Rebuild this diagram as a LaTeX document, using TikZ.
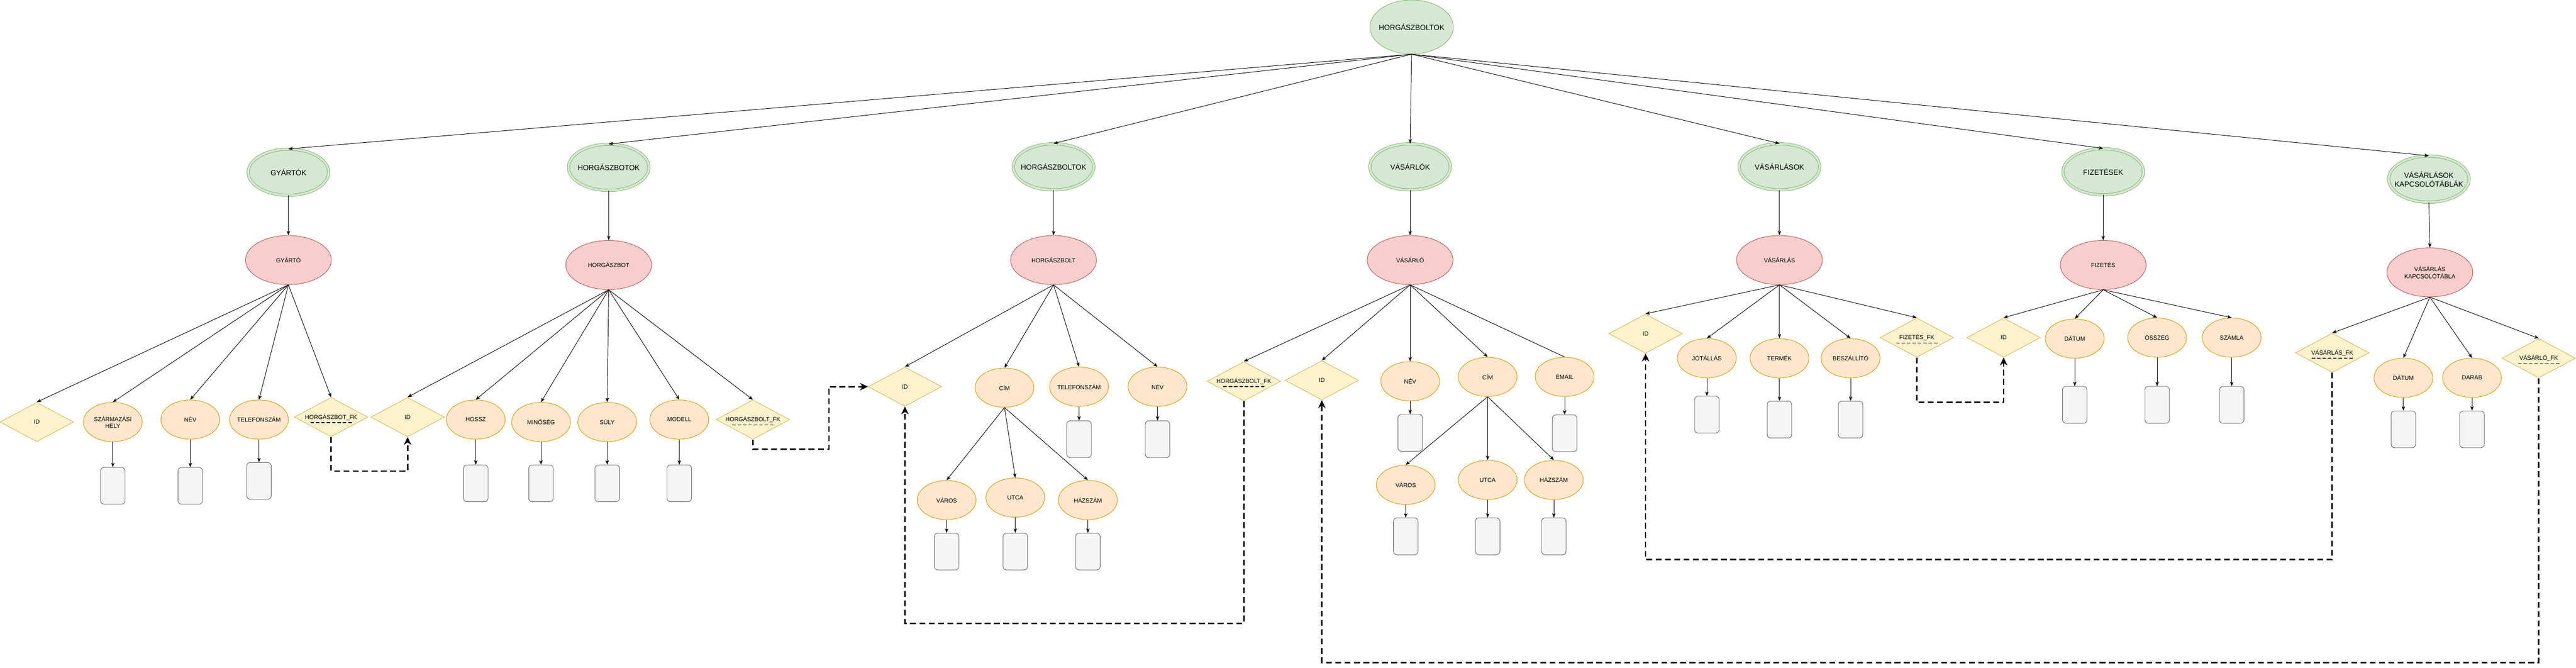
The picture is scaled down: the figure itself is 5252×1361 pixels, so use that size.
\documentclass[tikz,border=0pt]{standalone}
\usepackage{fontspec}
\setmainfont{Liberation Sans}
\usetikzlibrary{arrows.meta,shapes.geometric}

\definecolor{greenfill}{HTML}{D5E8D4}
\definecolor{greenline}{HTML}{82B366}
\definecolor{redfill}{HTML}{F8CECC}
\definecolor{redline}{HTML}{B85450}
\definecolor{attrfill}{HTML}{FFE6CC}
\definecolor{attrline}{HTML}{D79B00}
\definecolor{keyfill}{HTML}{FFF2CC}
\definecolor{keyline}{HTML}{D6B656}
\definecolor{boxfill}{HTML}{F5F5F5}
\definecolor{boxline}{HTML}{666666}

\tikzset{
  rootnode/.style={ellipse, draw=greenline, fill=greenfill, line width=1pt, minimum width=170pt, minimum height=110pt, inner xsep=-30pt, inner ysep=0pt, font=\fontsize{15}{18}\selectfont},
  tablenode/.style={ellipse, draw=greenline, fill=greenfill, double=greenfill, double distance=4pt, line width=1pt, minimum width=164pt, minimum height=94pt, inner xsep=-30pt, inner ysep=0pt, align=center, font=\fontsize{15}{18}\selectfont},
  entity/.style={ellipse, draw=redline, fill=redfill, line width=1pt, minimum width=175pt, minimum height=100pt, inner xsep=-20pt, inner ysep=0pt, align=center, font=\fontsize{12}{14.5}\selectfont},
  attr/.style={ellipse, draw=attrline, fill=attrfill, line width=1pt, minimum width=120pt, minimum height=80pt, inner xsep=-20pt, inner ysep=0pt, align=center, font=\fontsize{12}{14}\selectfont},
  keynode/.style={diamond, aspect=1.875, draw=keyline, fill=keyfill, line width=1pt, minimum width=150pt, minimum height=80pt, inner sep=0pt, font=\fontsize{12}{14}\selectfont},
  valbox/.style={rectangle, rounded corners=7pt, draw=boxline, fill=boxfill, line width=1pt, minimum width=50pt, minimum height=75pt, inner sep=0pt},
  conn/.style={line width=1pt, -{Stealth[length=9pt,width=7pt,inset=2.5pt]}},
  fkconn/.style={line width=3pt, dash pattern=on 12pt off 7pt, -{Stealth[length=16pt,width=15pt,inset=5pt]}},
  fkline/.style={line width=2pt, dash pattern=on 7pt off 4pt}
}

\begin{document}
\begin{tikzpicture}[x=1pt, y=-1pt]
        \useasboundingbox (0,0) rectangle (5252,1361);

        \node[rootnode] (root) at (2878,55) {HORGÁSZBOLTOK};

        % tables
        \node[tablenode] (gyartok) at (588,351) {GYÁRTÓK};
        \node[tablenode] (botok) at (1241,341) {HORGÁSZBOTOK};
        \node[tablenode] (boltok) at (2148,340) {HORGÁSZBOLTOK};
        \node[tablenode] (vevok) at (2875,340) {VÁSÁRLÓK};
        \node[tablenode] (vasarlasok) at (3628,340) {VÁSÁRLÁSOK};
        \node[tablenode] (fizetesek) at (4288,350) {FIZETÉSEK};
        \node[tablenode] (kapcsolok) at (4952,365) {VÁSÁRLÁSOK\\KAPCSOLÓTÁBLÁK};

        \node[entity] (gyarto) at (588,530) {GYÁRTÓ};
        \node[entity] (bot) at (1241,540) {HORGÁSZBOT};
        \node[entity] (bolt) at (2148,530) {HORGÁSZBOLT};
        \node[entity] (vevo) at (2875,530) {VÁSÁRLÓ};
        \node[entity] (vasarlas) at (3628,530) {VÁSÁRLÁS};
        \node[entity] (fizetes) at (4288,540) {FIZETÉS};
        \node[entity] (kapcsolo) at (4954,555) {VÁSÁRLÁS\\KAPCSOLÓTÁBLA};

        \foreach \t/\e in {gyartok/gyarto, botok/bot, boltok/bolt, vevok/vevo, vasarlasok/vasarlas, fizetesek/fizetes, kapcsolok/kapcsolo} {
          \draw[conn] (root.south) -- (\t.north);
          \draw[conn] (\t.south) -- (\e.north);
        }

        % gyarto
        \node[keynode] (gyid) at (75,860) {ID};
        \node[attr] (gyhely) at (230,860) {SZÁRMAZÁSI\\HELY};
        \node[attr] (gynev) at (388,855) {NÉV};
        \node[attr] (gytel) at (528,855) {TELEFONSZÁM};
        \node[keynode] (gyfk) at (675,850) {HORGÁSZBOT\_FK};

        % horgaszbot
        \node[keynode] (botid) at (831,850) {ID};
        \node[attr] (bothossz) at (970,855) {HOSSZ};
        \node[attr] (botmin) at (1103,860) {MINŐSÉG};
        \node[attr] (botsuly) at (1238,860) {SÚLY};
        \node[attr] (botmod) at (1385,855) {MODELL};
        \node[keynode] (botfk) at (1535,855) {HORGÁSZBOLT\_FK};

        % horgaszbolt
        \node[keynode] (boltid) at (1845,788) {ID};
        \node[attr] (boltcim) at (2048,790) {CÍM};
        \node[attr] (bolttel) at (2200,788) {TELEFONSZÁM};
        \node[attr] (boltnev) at (2360,788) {NÉV};
        \node[attr] (boltvaros) at (1930,1019) {VÁROS};
        \node[attr] (boltutca) at (2070,1014) {UTCA};
        \node[attr] (bolthaz) at (2218,1019) {HÁZSZÁM};

        % vasarlo
        \node[keynode] (vevofk) at (2536,777) {HORGÁSZBOLT\_FK};
        \node[keynode] (vevoid) at (2695,775) {ID};
        \node[attr] (vevonev) at (2875,777) {NÉV};
        \node[attr] (vevocim) at (3033,768) {CÍM};
        \node[attr] (vevoemail) at (3190,768) {EMAIL};
        \node[attr] (vevovaros) at (2866,988) {VÁROS};
        \node[attr] (vevoutca) at (3033,978) {UTCA};
        \node[attr] (vevohaz) at (3168,978) {HÁZSZÁM};

        % vasarlas
        \node[keynode] (vasid) at (3355,680) {ID};
        \node[attr] (vasjot) at (3480,730) {JÓTÁLLÁS};
        \node[attr] (vasterm) at (3628,730) {TERMÉK};
        \node[attr] (vasbesz) at (3773,730) {BESZÁLLÍTÓ};
        \node[keynode] (vasfk) at (3908,688) {FIZETÉS\_FK};

        % fizetes
        \node[keynode] (fizid) at (4085,688) {ID};
        \node[attr] (fizdat) at (4230,690) {DÁTUM};
        \node[attr] (fizossz) at (4398,688) {ÖSSZEG};
        \node[attr] (fizszam) at (4550,688) {SZÁMLA};

        % kapcsolotabla
        \node[keynode] (kfk1) at (4755,719) {VÁSÁRLÁS\_FK};
        \node[attr] (kdat) at (4900,770) {DÁTUM};
        \node[attr] (kdarab) at (5040,770) {DARAB};
        \node[keynode] (kfk2) at (5176,730) {VÁSÁRLÓ\_FK};

        \foreach \a in {gyid, gyhely, gynev, gytel, gyfk} \draw[conn] (gyarto.south) -- (\a.north);
        \foreach \a in {botid, bothossz, botmin, botsuly, botmod, botfk} \draw[conn] (bot.south) -- (\a.north);
        \foreach \a in {boltid, boltcim, bolttel, boltnev} \draw[conn] (bolt.south) -- (\a.north);
        \foreach \a in {boltvaros, boltutca, bolthaz} \draw[conn] (boltcim.south) -- (\a.north);
        \foreach \a in {vevofk, vevoid, vevonev, vevocim} \draw[conn] (vevo.south) -- (\a.north);
        \draw[conn, -] (vevo.south) -- (vevoemail.north);
        \foreach \a in {vevovaros, vevoutca, vevohaz} \draw[conn] (vevocim.south) -- (\a.north);
        \foreach \a in {vasid, vasjot, vasterm, vasbesz, vasfk} \draw[conn] (vasarlas.south) -- (\a.north);
        \foreach \a in {fizid, fizdat, fizossz, fizszam} \draw[conn] (fizetes.south) -- (\a.north);
        \foreach \a in {kfk1, kdat, kdarab, kfk2} \draw[conn] (kapcsolo.south) -- (\a.north);

        % value boxes
        \foreach \a/\x/\y in {gyhely/230/990, gynev/388/990, gytel/528/980,
            bothossz/970/985, botmin/1103/985, botsuly/1238/985, botmod/1385/985,
            bolttel/2200/895, boltnev/2360/895, boltvaros/1930/1124, boltutca/2070/1124, bolthaz/2218/1124,
            vevonev/2875/882, vevoemail/3190/883, vevovaros/2866/1093, vevoutca/3033/1093, vevohaz/3168/1093,
            vasjot/3480/845, vasterm/3628/855, vasbesz/3773/855,
            fizdat/4230/825, fizossz/4398/825, fizszam/4550/825,
            kdat/4900/875, kdarab/5040/875} {
          \node[valbox] (\a-v) at (\x,\y) {};
          \draw[conn] (\a.south) -- (\a-v.north);
        }

        % foreign keys
        \foreach \k in {gyfk, botfk, vevofk, vasfk, kfk1, kfk2}
          \draw[fkline] ([shift={(-42pt,-11pt)}]\k.center) -- ([shift={(42pt,-11pt)}]\k.center);

        \coordinate (low1) at (0,960);
        \coordinate (bend2) at (1690,915);
        \coordinate (low3) at (0,1270);
        \coordinate (low4) at (0,820);
        \coordinate (low5) at (0,1140);
        \coordinate (low6) at (0,1350);

        \draw[fkconn] (gyfk.south) -- (gyfk.south |- low1) -| (botid.south);
        \draw[fkconn] (botfk.south) |- (bend2) |- (boltid.west);
        \draw[fkconn] (vevofk.south) -- (vevofk.south |- low3) -| (boltid.south);
        \draw[fkconn] (vasfk.south) -- (vasfk.south |- low4) -| (fizid.south);
        \draw[fkconn] (kfk1.south) -- (kfk1.south |- low5) -| (vasid.south);
        \draw[fkconn] (kfk2.south) -- (kfk2.south |- low6) -| (vevoid.south);

        \end{tikzpicture}
\end{document}
